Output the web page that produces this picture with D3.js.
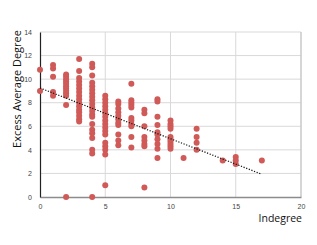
<!DOCTYPE html>
<html>
<head>
<meta charset="utf-8">
<script src="https://cdn.jsdelivr.net/npm/d3@7"></script>
<style>
  body { margin: 0; background: #fff; }
  text { font-family: "Open Sans", "Liberation Sans", sans-serif; }
</style>
</head>
<body>
<script>
// indegree columns and the excess average degree values
var indegree = [0, 1, 2, 3, 4, 5, 6, 7, 8, 9, 10, 11, 12, 14, 15, 17];
var excessDegree = [
  [10.8, 9.0],
  [11.2, 10.9, 10.2, 8.9, 8.6],
  [10.4, 10.2, 10.0, 9.8, 9.6, 9.4, 9.2, 9.0, 8.8, 8.6, 7.8, 0],
  [11.7, 10.7, 10.1, 9.8, 9.5, 9.2, 8.9, 8.6, 8.3, 8.0, 7.7, 7.4, 7.2, 6.9, 6.6, 6.4],
  [11.3, 11.0, 10.3, 9.7, 9.4, 9.1, 8.8, 8.5, 8.2, 7.9, 7.6, 7.3, 7.0, 6.8, 6.2, 5.7, 5.4, 5.0, 4.0, 3.7, 0],
  [8.6, 8.3, 8.0, 7.7, 7.4, 7.1, 6.8, 6.5, 6.2, 5.9, 5.6, 5.3, 4.6, 4.3, 4.0, 3.6, 1.0],
  [8.1, 7.9, 7.5, 7.2, 6.9, 6.6, 6.3, 6.1, 5.3, 4.8, 4.4],
  [9.6, 8.2, 8.0, 7.8, 7.6, 6.7, 6.5, 6.2, 6.0, 5.1, 4.2],
  [7.4, 7.1, 6.0, 5.1, 4.8, 4.5, 4.3, 0.8],
  [8.3, 8.1, 6.8, 6.1, 5.5, 5.3, 4.9, 4.5, 4.1, 3.3],
  [6.5, 6.2, 6.0, 5.8, 5.1, 4.9, 4.7, 4.5, 4.3, 4.1],
  [3.3],
  [5.8, 5.1, 4.6, 4.0],
  [3.1],
  [3.4, 3.1, 2.8],
  [3.1]
];
// linear trend line end points
var trendX = [0, 17];
var trendY = [9.25, 1.93];
var xTicks = [0, 5, 10, 15, 20];
var yTicks = [0, 2, 4, 6, 8, 10, 12, 14];

var points = [];
indegree.forEach(function(x, i) {
  excessDegree[i].forEach(function(y) { points.push({x: x, y: y}); });
});

var W = 317, H = 245;
var margin = {top: 32, right: 16, bottom: 48, left: 40};
var width = W - margin.left - margin.right,
    height = H - margin.top - margin.bottom;

var svg = d3.select("body").append("svg")
    .attr("width", W).attr("height", H);
var g = svg.append("g")
    .attr("transform", "translate(" + margin.left + "," + margin.top + ")");

var x = d3.scaleLinear().domain([0, 20]).range([0, width]);
var y = d3.scaleLinear().domain([0, 14]).range([height, 0]);

// gridlines
g.append("g").selectAll("line").data(yTicks.slice(1)).enter().append("line")
    .attr("x1", 0).attr("x2", width)
    .attr("y1", function(d) { return y(d); }).attr("y2", function(d) { return y(d); })
    .attr("stroke", "#d9d9d9").attr("stroke-width", 1);
g.append("g").selectAll("line").data(xTicks.slice(1)).enter().append("line")
    .attr("y1", 0).attr("y2", height)
    .attr("x1", function(d) { return x(d); }).attr("x2", function(d) { return x(d); })
    .attr("stroke", function(d) { return d == 20 ? "#c8c8c8" : "#d9d9d9"; })
    .attr("stroke-width", function(d) { return d == 20 ? 1.5 : 1; });

// axes
var xAxis = g.append("g")
    .attr("transform", "translate(0," + height + ")")
    .call(d3.axisBottom(x).tickValues(xTicks).tickSize(0).tickPadding(7));
xAxis.select(".domain").attr("stroke", "#8c8c8c").attr("stroke-width", 1.5);

var yAxis = g.append("g")
    .call(d3.axisLeft(y).tickValues(yTicks).tickSize(0).tickPadding(8));
yAxis.select(".domain").attr("stroke", "#222").attr("stroke-width", 1.2);

svg.selectAll(".tick text")
    .style("font-size", "7px").attr("fill", "#444")
    .style("font-family", "'Liberation Sans', sans-serif");

// points
g.selectAll("circle").data(points).enter().append("circle")
    .attr("cx", function(d) { return x(d.x); })
    .attr("cy", function(d) { return y(d.y); })
    .attr("r", 3)
    .attr("fill", "#cf5a57");

// trend line
g.append("line")
    .attr("x1", x(trendX[0])).attr("y1", y(trendY[0]))
    .attr("x2", x(trendX[1])).attr("y2", y(trendY[1]))
    .attr("stroke", "#111").attr("stroke-width", 1.2)
    .attr("stroke-dasharray", "1.2,1.6");

// titles
svg.append("text")
    .attr("x", margin.left + width + 1).attr("y", 222)
    .attr("text-anchor", "end")
    .style("font-size", "10.5px").attr("fill", "#111")
    .text("Indegree");

svg.append("text")
    .attr("transform", "translate(21,89) rotate(-90)")
    .attr("text-anchor", "middle")
    .style("font-size", "11px").attr("fill", "#111")
    .text("Excess Average Degree");
</script>
</body>
</html>
